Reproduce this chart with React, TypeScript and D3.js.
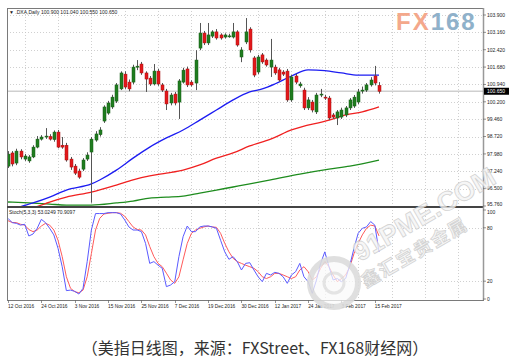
import React from 'react';
import * as d3 from 'd3';

const dateLabels = ['12 Oct 2016','24 Oct 2016','3 Nov 2016','15 Nov 2016','25 Nov 2016','7 Dec 2016','19 Dec 2016','30 Dec 2016','12 Jan 2017','24 Jan 2017','3 Feb 2017','15 Feb 2017'];
const priceTicks = [103.9, 103.16, 102.42, 101.68, 100.94, 100.2, 99.46, 98.72, 97.98, 97.24, 96.5, 95.76];

const opens = [97.46,98.02,97.59,98.10,97.76,97.68,97.85,98.27,98.61,98.70,
98.72,98.59,98.91,98.35,98.35,97.76,97.46,97.25,97.33,97.76,
98.06,98.57,98.80,99.38,99.72,99.98,100.23,100.75,101.38,101.04,
101.04,101.68,101.81,101.43,101.21,100.96,101.51,100.92,100.66,100.15,
100.53,100.19,101.04,101.60,101.04,101.00,102.49,103.13,102.71,103.00,
103.18,103.05,102.96,103.00,102.96,103.18,102.11,102.75,103.30,102.07,
101.47,102.20,101.98,101.68,101.68,101.56,101.47,101.51,100.28,101.30,
100.88,100.70,99.94,100.19,99.77,100.49,100.40,100.36,99.64,99.51,
99.55,99.64,99.94,100.02,100.19,100.66,100.70,100.92,101.30,100.90];
const highs = [98.10,98.10,98.20,98.18,97.98,97.93,98.35,98.74,98.78,99.08,
98.82,98.98,99.00,98.70,98.45,97.85,97.55,97.35,97.80,98.05,
98.70,98.95,99.12,100.05,100.24,100.50,101.00,101.50,101.50,101.15,
101.78,101.98,101.90,101.50,101.30,101.81,101.60,101.00,100.75,100.58,
100.62,101.17,101.65,101.70,101.12,102.40,103.56,103.22,103.56,103.25,
103.30,103.12,103.12,103.10,103.56,103.25,102.53,103.77,103.38,102.15,
102.20,102.28,102.05,102.88,101.78,101.65,101.55,101.60,101.35,101.40,
101.05,100.80,100.40,100.28,100.58,100.75,100.50,100.45,99.72,99.85,
99.95,100.02,100.36,100.49,100.75,100.85,101.00,101.25,101.73,101.04];
const lows = [97.38,97.45,97.50,97.75,97.68,97.60,97.80,98.22,98.55,98.62,
98.55,98.50,98.22,98.20,97.65,97.30,97.08,96.92,97.25,97.68,
95.90,98.50,98.72,99.30,99.65,99.90,100.15,100.70,100.75,100.65,
100.95,101.55,101.35,100.62,100.88,100.90,100.88,100.62,99.85,100.05,
100.05,99.47,100.98,100.83,100.85,100.70,102.40,102.62,102.62,102.92,
102.85,102.85,102.90,102.93,102.90,102.55,101.89,102.66,102.30,101.25,
101.38,101.82,101.70,101.26,101.35,101.05,101.30,100.20,100.20,100.95,
100.80,99.85,99.85,99.75,99.68,100.40,100.28,99.42,99.47,99.21,
99.47,99.55,99.85,99.94,100.10,100.55,100.62,100.85,100.90,100.55];
const closes = [97.97,97.55,98.10,97.85,97.89,97.85,98.27,98.61,98.70,98.74,
98.61,98.91,98.27,98.27,97.72,97.42,97.16,96.99,97.72,97.93,
98.61,98.83,99.00,99.98,100.15,100.40,100.92,101.43,100.83,100.75,
101.68,101.72,101.43,101.17,100.96,101.51,100.96,100.70,100.11,100.49,
100.15,101.09,101.55,100.92,100.92,101.98,103.13,102.71,103.05,103.18,
102.92,102.92,103.05,103.01,103.18,102.62,102.41,103.18,102.41,101.34,
102.11,101.90,101.77,101.98,101.43,101.13,101.38,100.28,101.26,101.04,
100.96,99.94,100.28,99.85,100.49,100.53,100.36,99.51,99.55,99.77,
99.85,99.94,100.28,100.40,100.62,100.70,100.92,101.13,101.00,100.65];

const blueIdx = [2,6,10,14,20,22,26,30,34,38,42,46,50,54,58,61,64,68,72,76,80,84,89];
const blueVal = [95.68,95.89,96.14,96.44,96.70,96.87,97.29,97.80,98.27,98.66,99.00,99.42,99.85,100.28,100.62,100.75,100.96,101.30,101.56,101.53,101.43,101.34,101.34];
const redIdx = [6,10,14,20,26,30,34,38,42,46,50,54,58,63,68,77,81,85,89];
const redVal = [95.67,95.93,96.14,96.35,96.65,96.87,97.04,97.16,97.29,97.51,97.80,98.02,98.32,98.61,99.00,99.42,99.64,99.77,99.98];
const greenIdx = [0,5,10,14,20,26,30,34,38,42,46,50,54,58,63,70,77,82,89];
const greenVal = [95.93,95.89,95.84,95.80,95.80,95.89,95.97,96.10,96.14,96.18,96.31,96.44,96.57,96.70,96.87,97.12,97.33,97.46,97.72];

const stochK = [90.6,85.8,85,83,84,70.8,73,79.4,89.5,85.8,
79.4,72,57,36.3,9.4,10,8.6,5.6,12,42,
77.5,96,96,96,97,97,97,95.5,88.8,81,
77.5,77.5,75.7,62.5,40,42,38,34.5,13.9,15.7,
19.5,47.6,70,82,75.7,75.7,81,82,82,81,
79.4,66,53,44.6,47.6,42,32.6,40,40.8,32.6,
25,19.5,28.8,27,30,28.8,25,17.6,27,30.7,
40,25,19.5,6.4,21.4,40,53,36.3,21.4,23,
19.5,23,38,57,73.8,79.4,81,87,83,53.0];
const stochD = [88,86,85.8,84,83,78,75.7,77.5,82,85,
83,77.5,66,47.6,25,12,8.3,7,10,25,
51,77.5,90.6,95.5,96.3,97,97,96.3,93,87,
81,78,77.5,72,59,47.6,40,36.3,29,21.4,
17.6,25,44,62.5,73.8,77.5,79.4,81,82,81,
80.5,73.8,62.5,53,45.7,42,40,38,36.3,34.5,
30.7,25,23,25,28.8,28.8,27,25,23,25,
32.6,36.3,30.7,21.4,25,34.5,42,36.3,27,19.5,
23,27,36.3,51,62.5,72,79.4,83,82,70.9];
const stochTicks = [100, 80, 20, 0];

export default function App() {
  const L = 7, R = 483, T = 8, MB = 206, ST = 207, SB = 300;
  const x = d3.scaleLinear().domain([0, 89]).range([8, 379]);
  const y = d3.scaleLinear().domain([95.76, 103.9]).range([206, 15]);
  const ys = d3.scaleLinear().domain([0, 100]).range([299, 210]);
  const font = 'Liberation Sans, Arial, sans-serif';

  const maLine = (idx: number[], val: number[]) =>
    d3.line<number>().x((_, k) => x(idx[k])).y(v => y(v)).curve(d3.curveMonotoneX)(val) || '';
  const stLine = (vals: number[]) =>
    d3.line<number>().x((_, k) => x(k)).y(v => ys(v))(vals) || '';

  const vgrid: number[] = [];
  for (let i = 4; x(i) < R; i += 8) vgrid.push(x(i));

  const last = closes[closes.length - 1];

  return (
    <svg width={510} height={363} style={{ position: 'absolute', left: 0, top: 0, background: '#fff' }}>
      <defs>
        <clipPath id="mainClip"><rect x={L} y={T} width={R - L} height={MB - T} /></clipPath>
        <clipPath id="stClip"><rect x={L} y={ST} width={R - L} height={SB - ST} /></clipPath>
      </defs>
      <rect width={510} height={363} fill="#fff" />
      {/* grid */}
      <g stroke="#c4c4c4" strokeDasharray="1,2" strokeWidth={0.8}>
        {priceTicks.slice(0, -1).map(p => <line key={p} x1={L} x2={R} y1={Math.round(y(p)) + 0.5} y2={Math.round(y(p)) + 0.5} />)}
        {vgrid.map(v => <line key={'a' + v} x1={Math.round(v) + 0.5} x2={Math.round(v) + 0.5} y1={T} y2={MB} />)}
        {vgrid.map(v => <line key={'b' + v} x1={Math.round(v) + 0.5} x2={Math.round(v) + 0.5} y1={ST} y2={SB} />)}
        {[80, 20].map(s => <line key={s} x1={L} x2={R} y1={Math.round(ys(s)) + 0.5} y2={Math.round(ys(s)) + 0.5} />)}
      </g>
      {/* FX168 logo */}
      <text x={396} y={30} fontFamily={font} fontWeight="bold" fontSize={24} letterSpacing={2}>
        <tspan fill="#f4a88b">FX</tspan><tspan fill="#8fb1ca">168</tspan>
      </text>
      {/* bid line */}
      <line x1={L} x2={R} y1={y(last)} y2={y(last)} stroke="#cfcfcf" strokeWidth={1.5} />
      <g clipPath="url(#mainClip)">
        <path d={maLine(greenIdx, greenVal)} fill="none" stroke="#1e8c1e" strokeWidth={1.3} />
        <path d={maLine(redIdx, redVal)} fill="none" stroke="#f02020" strokeWidth={1.3} />
        <path d={maLine(blueIdx, blueVal)} fill="none" stroke="#1c1cf2" strokeWidth={1.3} />
        {opens.map((o, i) => {
          const c = closes[i];
          const up = c >= o;
          const cx = Math.round(x(i)) + 0.5;
          const top = y(Math.max(o, c)), bot = y(Math.min(o, c));
          return (
            <g key={i}>
              <line x1={cx} x2={cx} y1={y(highs[i])} y2={y(lows[i])} stroke="#555" strokeWidth={1} />
              <rect x={cx - 1.5} y={top} width={3} height={Math.max(1, bot - top)}
                fill={up ? '#1f7d1f' : '#e3181b'} stroke={up ? '#175e17' : '#a81010'} strokeWidth={0.5} />
            </g>
          );
        })}
      </g>
      {/* stoch */}
      <g clipPath="url(#stClip)">
        <path d={stLine(stochD)} fill="none" stroke="#ff5a5a" strokeWidth={1} />
        <path d={stLine(stochK)} fill="none" stroke="#5a5aff" strokeWidth={1} />
      </g>
      {/* frames */}
      <rect x={L + 0.5} y={T + 0.5} width={R - L} height={MB - T} fill="none" stroke="#7a7a7a" strokeWidth={1} />
      <rect x={L + 0.5} y={ST + 0.5} width={R - L} height={SB - ST} fill="none" stroke="#7a7a7a" strokeWidth={1} />
      <line x1={L} x2={R} y1={MB + 1} y2={MB + 1} stroke="#333" strokeWidth={1.5} />
      <line x1={R + 0.5} x2={R + 0.5} y1={T} y2={SB} stroke="#999" strokeWidth={1.5} />
      {/* header texts */}
      <text x={9} y={13.5} fontFamily={font} fontSize={5} fill="#222">▼ .DXA,Daily  100.900 101.040 100.550 100.650</text>
      <text x={9} y={214} fontFamily={font} fontSize={5} fill="#222">Stoch(5,3,3) 53.0249 70.9097</text>
      {/* right price axis */}
      {priceTicks.map(p => (
        <g key={p}>
          <line x1={R} x2={R + 3} y1={y(p)} y2={y(p)} stroke="#666" strokeWidth={0.7} />
          <text x={R + 4} y={y(p) + (p === 95.76 ? 0 : 1.8)} fontFamily={font} fontSize={5} fill="#222">{p.toFixed(3)}</text>
        </g>
      ))}
      <rect x={R + 1} y={y(last) - 3.5} width={25} height={7} fill="#000" />
      <text x={R + 4} y={y(last) + 1.8} fontFamily={font} fontSize={5} fill="#fff">{last.toFixed(3)}</text>
      {stochTicks.map(s => (
        <g key={s}>
          <line x1={R} x2={R + 3} y1={ys(s)} y2={ys(s)} stroke="#666" strokeWidth={0.7} />
          <text x={R + 4} y={ys(s) + (s === 100 ? 3.5 : 1.8)} fontFamily={font} fontSize={5} fill="#222">{s}</text>
        </g>
      ))}
      {/* date axis */}
      {dateLabels.map((d, k) => (
        <g key={d}>
          <line x1={Math.round(x(k * 8)) + 0.5} x2={Math.round(x(k * 8)) + 0.5} y1={SB} y2={SB + 3} stroke="#666" strokeWidth={0.7} />
          <text x={x(k * 8)} y={308} fontFamily={font} fontSize={4.8} fill="#222">{d}</text>
        </g>
      ))}
      {/* 91PME watermark */}
      <g opacity={0.9}>
        <circle cx={334} cy={283} r={24} fill="rgba(250,250,250,0.8)" stroke="#dcdcdc" strokeWidth={6} />
        <circle cx={334} cy={283} r={10} fill="none" stroke="#e2e2e2" strokeWidth={3} />
        <text x={360} y={262} transform="rotate(-30 360 262)" fontFamily={font} fontWeight="bold" fontSize={27}
          fill="rgba(245,245,245,0.9)" stroke="#cfcfcf" strokeWidth={0.8}>91PME.COM</text>
        <text x={366} y={288} transform="rotate(-30 366 288)" fontFamily="Noto Sans CJK SC" fontWeight="bold" fontSize={18}
          fill="rgba(245,245,245,0.9)" stroke="#cfcfcf" strokeWidth={0.8} letterSpacing={2}>鑫汇宝贵金属</text>
      </g>
      {/* caption */}
      <text x={255} y={354} textAnchor="middle" fontFamily="Noto Sans CJK SC" fontSize={16} fill="#333">（美指日线图，来源：FXStreet、FX168财经网）</text>
    </svg>
  );
}
